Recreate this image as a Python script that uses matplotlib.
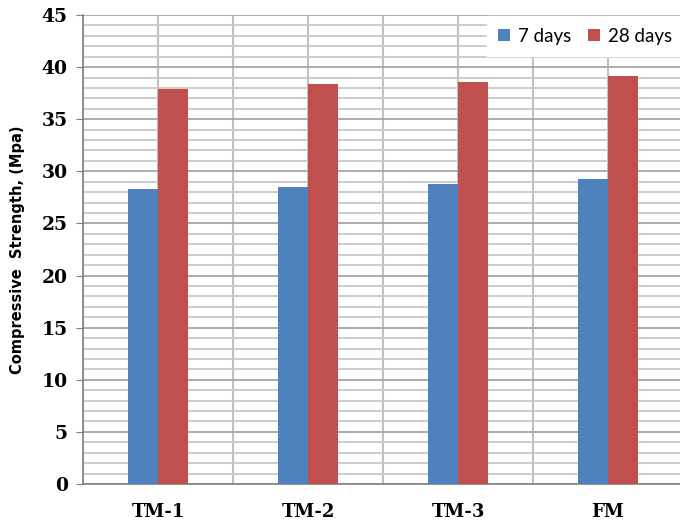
import matplotlib
matplotlib.use("Agg")
import matplotlib.pyplot as plt
import numpy as np
from matplotlib.ticker import MultipleLocator

categories = ["TM-1", "TM-2", "TM-3", "FM"]
days_7 = [28.3, 28.5, 28.8, 29.3]
days_28 = [37.9, 38.4, 38.6, 39.1]
series_names = ["7 days", "28 days"]
y_ticks = [0, 5, 10, 15, 20, 25, 30, 35, 40, 45]

W, H = 680, 521
fig = plt.figure(figsize=(W / 100, H / 100), dpi=100)
left, right, top, bottom = 83, 683, 15, 484
ax = fig.add_axes([left / W, 1 - bottom / H, (right - left) / W, (bottom - top) / H])

x = np.arange(len(categories))
bw = 0.2
ax.bar(x - bw / 2, days_7, bw, color="#4f81bd", label=series_names[0], zorder=3)
ax.bar(x + bw / 2, days_28, bw, color="#c0504d", label=series_names[1], zorder=3)

ax.set_xlim(-0.5, len(categories) - 0.5)
ax.set_ylim(0, 45)
ax.set_yticks(y_ticks)
ax.yaxis.set_minor_locator(MultipleLocator(1))

# horizontal grid: every unit, darker every 5
ax.grid(axis="y", which="minor", color="#c8c8c8", linewidth=1.3, zorder=0)
ax.grid(axis="y", which="major", color="#a6a6a6", linewidth=1.3, zorder=0)
# vertical grid at category centres and boundaries
for v in np.arange(-0.5, len(categories), 0.5):
    ax.axvline(v, color="#c0c0c0", linewidth=1.5, zorder=0)

ax.set_xticks(x)
ax.set_xticklabels(categories, fontfamily="DejaVu Serif", fontweight="bold", fontsize=13)
for lab in ax.get_yticklabels():
    lab.set_fontfamily("DejaVu Serif")
    lab.set_fontweight("bold")
    lab.set_fontsize(13.5)

ax.tick_params(axis="x", length=0, pad=14)
ax.tick_params(axis="y", which="major", length=5, color="#808080", pad=6)
ax.tick_params(axis="y", which="minor", length=0)

for s in ["top", "right"]:
    ax.spines[s].set_visible(False)
for s in ["left", "bottom"]:
    ax.spines[s].set_color("#808080")
    ax.spines[s].set_linewidth(1.2)

ax.set_ylabel("Compressive  Strength, (Mpa)", fontfamily="DejaVu Sans",
              fontweight="bold", fontsize=10.5, labelpad=12)

leg = ax.legend(loc="upper right", ncol=2, frameon=True, fancybox=False,
                edgecolor="white", framealpha=1.0,
                prop={"family": "Lato", "size": 13.5},
                handlelength=0.65, handleheight=0.65, handletextpad=0.4,
                columnspacing=0.9, borderpad=0.6, borderaxespad=0.0,
                bbox_to_anchor=(1.0, 0.997))
leg.set_zorder(5)

fig.savefig("out.png", dpi=100)
